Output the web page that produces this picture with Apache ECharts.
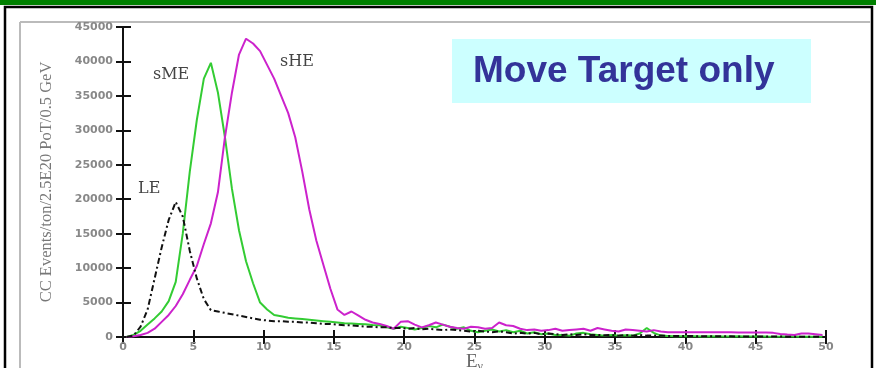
<!DOCTYPE html>
<html><head><meta charset="utf-8">
<script src="https://cdn.jsdelivr.net/npm/echarts@6/dist/echarts.min.js"></script>
<style>html,body{margin:0;padding:0;background:#fff}#c{width:876px;height:368px}</style>
</head><body><div id="c"></div>
<script>
const energy = [0.25,0.75,1.25,1.75,2.25,2.75,3.25,3.75,4.25,4.75,5.25,5.75,6.25,6.75,7.25,7.75,8.25,8.75,9.25,9.75,
10.25,10.75,11.25,11.75,12.25,12.75,13.25,13.75,14.25,14.75,15.25,15.75,16.25,16.75,17.25,17.75,18.25,18.75,19.25,19.75,
20.25,20.75,21.25,21.75,22.25,22.75,23.25,23.75,24.25,24.75,25.25,25.75,26.25,26.75,27.25,27.75,28.25,28.75,29.25,29.75,
30.25,30.75,31.25,31.75,32.25,32.75,33.25,33.75,34.25,34.75,35.25,35.75,36.25,36.75,37.25,37.75,38.25,38.75,39.25,39.75,
40.25,40.75,41.25,41.75,42.25,42.75,43.25,43.75,44.25,44.75,45.25,45.75,46.25,46.75,47.25,47.75,48.25,48.75,49.25,49.75];

const sME = [0,300,900,1800,2700,3700,5200,8000,15000,24000,31500,37500,39800,35500,29000,21500,15500,11000,7800,5000,
4000,3200,3000,2800,2700,2600,2500,2400,2300,2200,2100,2000,1950,1900,1850,1750,1700,1400,1200,1500,
1300,1100,1300,1600,1400,1800,1500,1200,1400,900,700,900,1100,800,1000,700,900,500,700,400,
500,300,300,200,500,600,400,300,200,300,200,250,200,500,1300,600,200,150,100,100,
100,100,80,100,80,60,80,100,80,60,80,60,50,60,80,60,40,50,40,20];

const sHE = [0,100,300,600,1200,2200,3200,4500,6200,8300,10300,13500,16500,21000,29000,35500,41000,43300,42600,41500,
39500,37500,35000,32500,29000,24000,18500,14000,10500,7000,4000,3200,3700,3100,2500,2100,1900,1600,1200,2200,
2300,1800,1400,1700,2100,1800,1500,1300,1200,1500,1400,1200,1300,2100,1700,1600,1200,1000,1100,900,
1000,1200,900,1000,1100,1200,900,1300,1100,900,800,1100,1000,900,800,1000,800,700,700,700,
700,700,700,700,700,700,700,650,650,650,650,650,600,450,350,300,500,500,400,300];

const LE = [0,200,1500,4000,8500,13000,17000,19600,17500,12500,8500,5500,3900,3700,3500,3300,3100,2900,2700,2500,
2400,2300,2300,2200,2200,2100,2100,2000,1900,1900,1800,1700,1700,1600,1500,1500,1400,1400,1300,1300,
1200,1300,1100,1200,1100,1000,1100,1000,900,800,900,800,700,800,700,500,600,500,600,400,
500,400,300,400,300,400,300,300,250,300,200,300,200,300,200,200,200,150,150,150,
150,120,120,100,100,100,100,80,80,80,80,60,60,60,50,50,40,40,30,20];

const seriesNames = ['sME','sHE','LE'];
const yTicks = [0,5000,10000,15000,20000,25000,30000,35000,40000,45000];
const xTicks = [0,5,10,15,20,25,30,35,40,45,50];

function pairs(vals){ return vals.map((v,i)=>[energy[i], v]); }

const chart = echarts.init(document.getElementById('c'));
const tickLabel = {color:'#888', fontSize:11, fontWeight:'bold', fontFamily:'DejaVu Sans', formatter:v=>String(v)};
chart.setOption({
  animation:false,
  backgroundColor:'#fff',
  grid:{left:123, right:50, top:27, bottom:31, containLabel:false, outerBoundsMode:'none'},
  xAxis:[{
    type:'value', min:xTicks[0], max:xTicks[xTicks.length-1], interval:5,
    axisLine:{lineStyle:{color:'#111', width:2}},
    axisTick:{inside:true, length:7, lineStyle:{color:'#111', width:2}},
    axisLabel:Object.assign({margin:5}, tickLabel),
    splitLine:{show:false},
    name:'{e|E}{s|ν}', nameLocation:'middle', nameGap:15, nameMoveOverlap:false,
    nameTextStyle:{rich:{e:{fontFamily:'Liberation Serif', fontSize:19, color:'#666'}, s:{fontFamily:'Liberation Serif', fontSize:12, color:'#666', padding:[9,0,0,0]}}}
  },{
    type:'value', position:'top', min:0, max:50, interval:5,
    axisLine:{lineStyle:{color:'#111', width:2}},
    axisTick:{inside:true, length:7, lineStyle:{color:'#111', width:2}},
    axisLabel:{show:false}, splitLine:{show:false}
  }],
  yAxis:[{
    type:'value', min:yTicks[0], max:yTicks[yTicks.length-1], interval:5000,
    axisLine:{show:true, lineStyle:{color:'#111', width:2}},
    axisTick:{show:true, inside:true, length:8, lineStyle:{color:'#111', width:2}},
    axisLabel:Object.assign({margin:10}, tickLabel),
    splitLine:{show:false},
    name:'CC Events/ton/2.5E20 PoT/0.5 GeV', nameLocation:'middle', nameGap:68, nameMoveOverlap:false,
    nameTextStyle:{fontFamily:'Liberation Serif', fontSize:16.5, color:'#777'}
  },{
    type:'value', position:'right', min:0, max:45000, interval:5000,
    axisLine:{show:true, lineStyle:{color:'#111', width:2}},
    axisTick:{show:true, inside:true, length:7, lineStyle:{color:'#111', width:2}},
    axisLabel:{show:false}, splitLine:{show:false}
  }],
  series:[
    {name:seriesNames[0], type:'line', data:pairs(sME), symbol:'none',
     lineStyle:{color:'#33cc33', width:2}},
    {name:seriesNames[1], type:'line', data:pairs(sHE), symbol:'none',
     lineStyle:{color:'#cc22cc', width:2}},
    {name:seriesNames[2], type:'line', data:pairs(LE), symbol:'none',
     lineStyle:{color:'#111', width:2, type:[6,3,2,3]}}
  ],
  graphic:[
    {type:'rect', shape:{x:0,y:0,width:876,height:5}, style:{fill:'#008000'}, z:-1},
    {type:'rect', shape:{x:5,y:7,width:867,height:380}, style:{fill:'none', stroke:'#000', lineWidth:2.5}, z:-1},
    {type:'line', shape:{x1:20,y1:22,x2:871,y2:22}, style:{stroke:'#bbb', lineWidth:2}, z:-1},
    {type:'line', shape:{x1:20,y1:22,x2:20,y2:368}, style:{stroke:'#bbb', lineWidth:2}, z:-1},
    {type:'rect', shape:{x:452,y:39,width:359,height:64}, style:{fill:'#ccffff'}, z:5},
    {type:'text', x:473, y:72, z:6, style:{text:'Move Target only', fill:'#333399', font:'bold 37px "Liberation Sans", Arial', verticalAlign:'middle'}},
    {type:'text', x:153, y:75, z:6, style:{text:'sME', fill:'#444', font:'16px "DejaVu Serif"', verticalAlign:'middle'}},
    {type:'text', x:280, y:62, z:6, style:{text:'sHE', fill:'#444', font:'16px "DejaVu Serif"', verticalAlign:'middle'}},
    {type:'text', x:138, y:189, z:6, style:{text:'LE', fill:'#444', font:'16px "DejaVu Serif"', verticalAlign:'middle'}}
  ]
});
</script></body></html>
